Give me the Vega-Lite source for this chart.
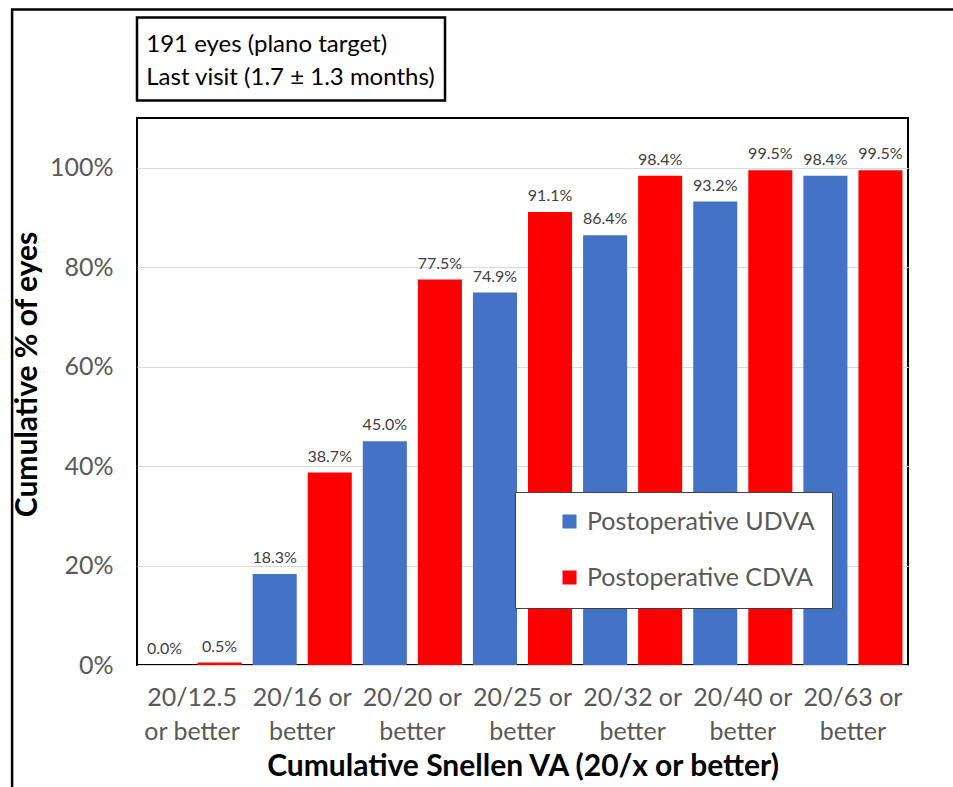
{
  "$schema": "https://vega.github.io/schema/vega-lite/v6.json",
  "width": 771,
  "height": 547,
  "autosize": "none",
  "padding": {"left": 137, "top": 118, "right": 45, "bottom": 122},
  "background": "white",
  "config": {
    "font": "Lato",
    "view": {"stroke": "black", "strokeWidth": 2}
  },
  "layer": [
    {
      "data": {"values": [{"note": "191 eyes (plano target)\nLast visit (1.7 ± 1.3 months)"}]},
      "layer": [
        {
          "mark": {"type": "rect", "fill": null, "fillOpacity": 0, "stroke": "black", "strokeWidth": 2.5, "clip": false},
          "encoding": {
            "x": {"datum": -0.162, "type": "quantitative", "scale": {"domain": [0, 1], "nice": false, "zero": false}, "axis": null},
            "x2": {"datum": 1.2},
            "y": {"datum": 1.318, "type": "quantitative", "scale": {"domain": [0, 1.1], "nice": false}, "axis": null},
            "y2": {"datum": -0.4}
          }
        },
        {
          "mark": {"type": "rect", "fill": "white", "stroke": "black", "strokeWidth": 2.5, "clip": false},
          "encoding": {
            "x": {"datum": 0, "type": "quantitative"},
            "x2": {"datum": 0.3995},
            "y": {"datum": 1.302, "type": "quantitative"},
            "y2": {"datum": 1.135}
          }
        },
        {
          "mark": {"type": "text", "align": "left", "baseline": "middle", "fontSize": 24, "lineHeight": 33, "lineBreak": "\n", "color": "black", "clip": false},
          "encoding": {
            "x": {"datum": 0.012, "type": "quantitative"},
            "y": {"datum": 1.2475, "type": "quantitative"},
            "text": {"field": "note"}
          }
        }
      ]
    },
    {
      "data": {
        "values": [
          {"category": "20/12.5 or better", "series": "Postoperative UDVA", "value": 0.0},
          {"category": "20/16 or better", "series": "Postoperative UDVA", "value": 0.183},
          {"category": "20/20 or better", "series": "Postoperative UDVA", "value": 0.45},
          {"category": "20/25 or better", "series": "Postoperative UDVA", "value": 0.749},
          {"category": "20/32 or better", "series": "Postoperative UDVA", "value": 0.864},
          {"category": "20/40 or better", "series": "Postoperative UDVA", "value": 0.932},
          {"category": "20/63 or better", "series": "Postoperative UDVA", "value": 0.984},
          {"category": "20/12.5 or better", "series": "Postoperative CDVA", "value": 0.005},
          {"category": "20/16 or better", "series": "Postoperative CDVA", "value": 0.387},
          {"category": "20/20 or better", "series": "Postoperative CDVA", "value": 0.775},
          {"category": "20/25 or better", "series": "Postoperative CDVA", "value": 0.911},
          {"category": "20/32 or better", "series": "Postoperative CDVA", "value": 0.984},
          {"category": "20/40 or better", "series": "Postoperative CDVA", "value": 0.995},
          {"category": "20/63 or better", "series": "Postoperative CDVA", "value": 0.995}
        ]
      },
      "encoding": {
        "x": {
          "field": "category",
          "type": "nominal",
          "sort": ["20/12.5 or better", "20/16 or better", "20/20 or better", "20/25 or better", "20/32 or better", "20/40 or better", "20/63 or better"],
          "scale": {"paddingInner": 0, "paddingOuter": 0},
          "title": "Cumulative Snellen VA (20/x or better)",
          "axis": {
            "orient": "bottom",
            "labelAngle": 0,
            "labelExpr": "datum.label == '20/12.5 or better' ? ['20/12.5', 'or better'] : [replace(datum.label, ' better', ''), 'better']",
            "labelFontSize": 25,
            "labelColor": "#595959",
            "labelLineHeight": 34,
            "labelPadding": 20,
            "labelLimit": 200,
            "ticks": false,
            "domain": false,
            "titleFontSize": 30,
            "titleFontWeight": "bold",
            "titleColor": "black",
            "titlePadding": 7
          }
        },
        "xOffset": {
          "field": "series",
          "sort": ["Postoperative UDVA", "Postoperative CDVA"],
          "scale": {"paddingInner": 0.2, "paddingOuter": 0.1}
        },
        "y": {
          "field": "value",
          "type": "quantitative",
          "scale": {"domain": [0, 1.1], "nice": false},
          "title": "Cumulative % of eyes",
          "axis": {
            "orient": "left",
            "values": [0, 0.2, 0.4, 0.6, 0.8, 1.0],
            "format": ".0%",
            "labelFontSize": 25,
            "labelColor": "#595959",
            "labelPadding": 24,
            "ticks": false,
            "domain": false,
            "grid": true,
            "gridColor": "#d9d9d9",
            "titleFontSize": 30,
            "titleFontWeight": "bold",
            "titleColor": "black",
            "titlePadding": 7,
            "titleY": 256
          }
        }
      },
      "layer": [
        {
          "mark": {"type": "bar"},
          "encoding": {
            "color": {
              "field": "series",
              "type": "nominal",
              "scale": {"domain": ["Postoperative UDVA", "Postoperative CDVA"], "range": ["#4472C4", "#FF0000"]},
              "legend": {
                "title": null,
                "orient": "none",
                "legendX": 378,
                "legendY": 374,
                "direction": "vertical",
                "strokeColor": "#404040",
                "fillColor": "white",
                "padding": 17,
                "symbolType": "square",
                "symbolSize": 196,
                "symbolOffset": 25,
                "symbolStrokeWidth": 0,
                "labelFontSize": 25,
                "labelColor": "#595959",
                "labelOffset": 5,
                "rowPadding": 30,
                "labelLimit": 400
              }
            }
          }
        },
        {
          "mark": {"type": "text", "baseline": "middle", "dy": -16, "fontSize": 16, "color": "#404040"},
          "encoding": {
            "text": {"field": "value", "format": ".1%"}
          }
        }
      ]
    }
  ],
  "resolve": {"scale": {"x": "independent", "y": "independent", "color": "independent"}}
}
